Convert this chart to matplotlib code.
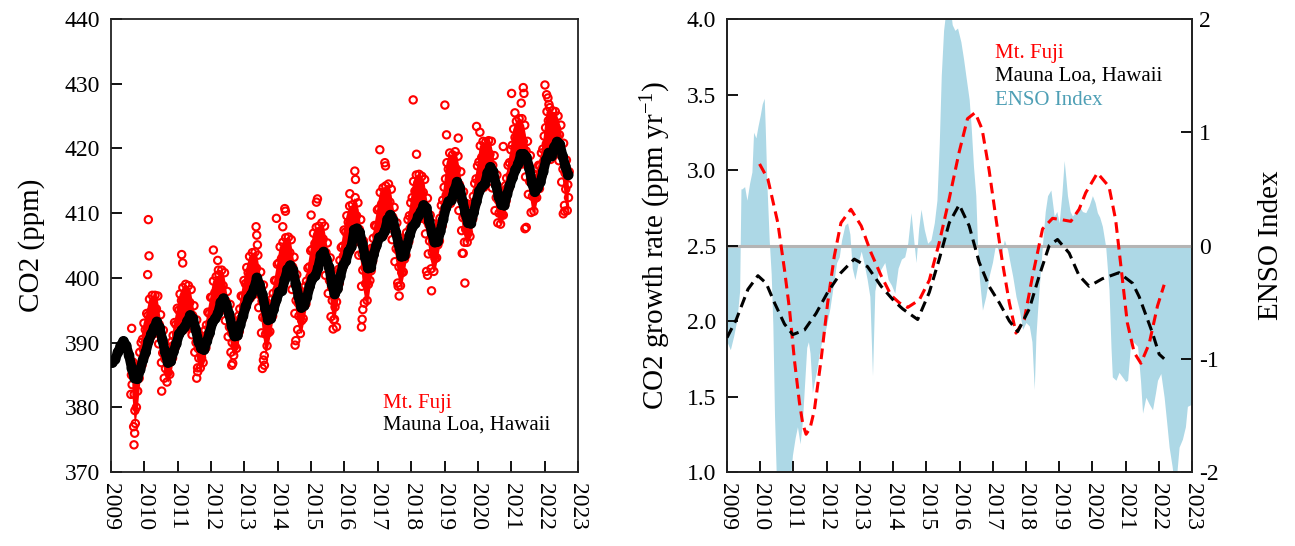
import numpy as np
import matplotlib.pyplot as plt

plt.rcParams.update({
    "font.family": "Liberation Serif",
    "mathtext.fontset": "custom",
    "mathtext.rm": "Liberation Serif",
    "mathtext.it": "Liberation Serif:italic",
    "axes.unicode_minus": False,
    "font.size": 17,
})

# Mauna Loa, monthly CO2 (ppm), Jan 2009 - Sep 2022
mlo_start = 2009
mlo_ppm = [
    386.9, 387.4, 388.5, 389.5, 390.2, 389.5, 388.0, 386.0, 384.5, 384.4, 385.8, 387.3,
    388.5, 390.2, 391.3, 392.3, 393.2, 392.3, 390.4, 388.5, 386.9, 387.1, 388.6, 389.8,
    391.3, 391.9, 392.4, 393.3, 394.2, 393.7, 392.0, 390.1, 389.1, 388.9, 390.2, 391.5,
    393.1, 393.7, 394.5, 396.2, 396.8, 395.9, 394.4, 392.5, 391.0, 391.1, 392.7, 394.1,
    395.6, 396.8, 397.4, 398.4, 400.0, 398.9, 397.4, 395.3, 393.5, 393.7, 395.1, 396.6,
    397.8, 398.0, 399.7, 401.3, 401.9, 401.2, 399.0, 397.1, 395.4, 395.7, 397.0, 398.7,
    399.9, 400.3, 401.5, 403.5, 404.0, 402.9, 401.6, 399.0, 397.5, 398.3, 400.2, 401.9,
    402.6, 404.1, 404.8, 407.4, 407.6, 407.0, 405.2, 403.1, 401.5, 401.6, 403.6, 405.0,
    406.2, 406.4, 407.2, 409.0, 409.7, 408.9, 407.0, 405.2, 403.3, 403.4, 405.0, 406.6,
    407.9, 408.4, 409.5, 410.2, 411.2, 410.8, 408.7, 406.9, 405.5, 405.6, 407.2, 409.0,
    410.8, 411.8, 412.0, 413.5, 414.8, 413.9, 411.8, 410.0, 408.5, 408.4, 410.1, 411.8,
    413.4, 414.1, 414.5, 416.2, 417.1, 416.4, 414.4, 412.5, 411.3, 411.2, 412.9, 414.3,
    415.5, 416.7, 417.6, 419.1, 419.1, 418.6, 416.9, 414.6, 413.3, 413.9, 414.8, 416.4,
    418.2, 419.3, 418.8, 420.2, 421.0, 420.6, 418.8, 417.2, 415.9,
]

# Mt. Fuji, four readings per month, Aug 2009 - Sep 2022
fuji_start = 2009 + 7 / 12
fuji_ppm = [
    # 2009
    [382.0, 383.5, 385.0, 387.0], [377.0, 379.5, 382.0, 384.5], [380.0, 382.5, 384.5, 386.5],
    [384.5, 386.5, 388.5, 390.0], [386.5, 389.0, 390.5, 393.0],
    # 2010
    [388.0, 390.0, 392.0, 394.5], [390.2, 392.2, 394.2, 396.7], [390.8, 392.8, 394.8, 397.3],
    [391.3, 393.3, 395.3, 397.3], [391.7, 393.2, 395.2, 397.2], [389.8, 391.3, 392.8, 394.3],
    [386.9, 388.4, 390.4, 391.9], [384.5, 386.0, 387.5, 389.5], [383.9, 385.4, 386.9, 388.4],
    [385.1, 387.1, 388.6, 390.1], [387.6, 389.6, 391.1, 393.1], [389.3, 391.3, 392.8, 395.3],
    # 2011
    [391.0, 393.0, 395.0, 397.5], [391.9, 394.0, 396.5, 398.5], [392.0, 394.0, 396.0, 399.0],
    [392.3, 394.3, 396.3, 398.8], [392.7, 394.2, 396.2, 398.2], [391.2, 392.7, 394.2, 395.7],
    [388.5, 390.0, 392.0, 393.5], [386.1, 387.6, 389.1, 391.1], [386.1, 387.6, 389.1, 390.6],
    [386.9, 388.9, 390.4, 391.9], [389.2, 391.2, 392.7, 394.7], [391.0, 393.0, 394.5, 397.0],
    # 2012
    [393.0, 395.0, 397.0, 399.5], [393.7, 395.7, 397.7, 400.2], [394.0, 396.0, 398.0, 400.5],
    [395.2, 397.2, 399.2, 401.2], [395.3, 396.8, 398.8, 400.8], [393.4, 394.9, 396.4, 397.9],
    [390.9, 392.4, 394.4, 395.9], [388.5, 390.0, 391.5, 393.5], [388.0, 389.5, 391.0, 392.5],
    [389.1, 391.1, 392.6, 394.1], [391.7, 393.7, 395.2, 397.2], [393.6, 395.6, 397.1, 399.6],
    # 2013
    [395.1, 397.1, 399.1, 401.6], [396.8, 398.8, 400.8, 403.3], [396.9, 398.9, 400.9, 403.9],
    [397.4, 399.4, 401.4, 404.0], [398.0, 399.5, 401.5, 403.5], [395.4, 397.4, 399.0, 400.9],
    [391.5, 393.9, 396.4, 398.9], [388.0, 391.3, 393.8, 396.3], [389.5, 391.5, 393.5, 395.0],
    [391.7, 393.7, 395.2, 396.7], [394.1, 396.1, 397.6, 399.6], [396.1, 398.1, 399.6, 402.1],
    # 2014
    [397.8, 399.8, 402.3, 404.8], [398.0, 400.5, 403.0, 405.5], [399.2, 401.7, 403.7, 406.2],
    [400.3, 402.3, 404.3, 406.3], [400.4, 401.9, 403.9, 405.9], [398.2, 400.2, 401.7, 403.2],
    [394.5, 396.5, 399.0, 400.5], [392.0, 394.1, 396.1, 398.1], [391.4, 393.4, 395.4, 396.9],
    [393.7, 395.7, 397.2, 398.7], [396.0, 398.0, 399.5, 401.5], [398.2, 400.2, 401.7, 404.2],
    # 2015
    [399.9, 401.9, 404.4, 406.9], [400.3, 402.8, 405.3, 407.8], [401.0, 403.5, 405.5, 408.0],
    [402.5, 404.5, 406.5, 408.5], [402.5, 404.0, 406.0, 408.0], [400.4, 402.4, 403.9, 405.4],
    [397.6, 399.6, 401.6, 403.1], [394.0, 396.5, 398.5, 400.5], [393.5, 395.5, 397.5, 399.0],
    [396.3, 398.3, 399.8, 401.3], [399.2, 401.2, 402.7, 404.7], [401.4, 403.4, 404.9, 407.4],
    # 2016
    [402.6, 404.6, 407.1, 409.6], [404.1, 406.1, 408.6, 411.1], [404.3, 406.8, 408.8, 411.3],
    [406.4, 408.4, 410.4, 412.4], [405.6, 407.6, 409.6, 411.6], [403.5, 405.5, 407.5, 409.0],
    [398.7, 401.2, 403.7, 405.7], [396.1, 399.1, 401.6, 403.6], [396.5, 399.0, 401.0, 402.5],
    [399.6, 401.1, 403.1, 404.6], [402.6, 404.6, 406.1, 408.1], [404.5, 406.5, 408.0, 410.5],
    # 2017
    [406.2, 408.2, 410.7, 413.2], [406.4, 408.9, 411.4, 413.9], [406.7, 409.2, 411.2, 414.2],
    [408.0, 410.0, 412.0, 414.5], [407.7, 409.7, 411.7, 413.7], [405.9, 407.9, 409.4, 410.9],
    [402.5, 404.5, 407.0, 408.5], [399.2, 401.7, 404.2, 406.2], [398.8, 400.8, 402.8, 404.3],
    [400.9, 402.9, 404.4, 405.9], [403.5, 405.5, 407.0, 409.0], [405.6, 407.6, 409.6, 411.6],
    # 2018
    [407.9, 409.9, 412.4, 414.9], [408.4, 410.9, 413.4, 415.9], [409.0, 411.5, 413.5, 416.0],
    [409.2, 411.2, 413.2, 415.7], [409.2, 411.2, 413.2, 415.2], [406.8, 408.8, 410.8, 412.3],
    [403.7, 405.7, 408.2, 409.7], [401.4, 403.9, 406.4, 408.4], [401.0, 403.0, 405.0, 406.5],
    [403.1, 405.1, 406.6, 408.1], [405.7, 407.7, 409.2, 411.2], [408.0, 410.0, 412.0, 414.0],
    # 2019
    [410.8, 412.8, 415.3, 417.8], [411.8, 414.3, 416.8, 419.3], [411.5, 414.0, 416.5, 419.0],
    [412.5, 414.5, 417.0, 419.5], [412.8, 414.8, 416.8, 418.8], [410.4, 412.4, 414.4, 416.4],
    [407.3, 409.3, 411.8, 413.3], [405.5, 407.5, 409.5, 411.5], [405.5, 407.0, 408.5, 410.0],
    [406.4, 408.4, 409.9, 411.4], [409.1, 411.1, 412.6, 414.6], [411.3, 413.3, 415.3, 417.3],
    # 2020
    [413.4, 415.4, 417.9, 420.4], [414.1, 416.1, 418.6, 421.1], [414.0, 416.5, 418.5, 421.0],
    [415.2, 417.2, 419.2, 421.2], [415.6, 417.1, 419.1, 421.1], [413.9, 415.9, 417.4, 418.9],
    [410.4, 412.4, 414.4, 415.9], [408.5, 410.0, 412.0, 413.5], [408.3, 409.8, 411.3, 412.8],
    [409.7, 411.2, 412.7, 414.2], [411.9, 413.9, 415.4, 417.4], [413.8, 415.8, 417.8, 419.8],
    # 2021
    [415.5, 418.0, 420.5, 423.0], [416.7, 419.2, 421.7, 424.2], [417.1, 419.6, 422.1, 424.6],
    [418.1, 420.1, 422.1, 424.6], [417.6, 419.1, 421.1, 423.6], [415.6, 417.6, 419.6, 421.1],
    [412.9, 414.9, 417.4, 418.9], [410.1, 412.6, 414.6, 416.1], [410.3, 412.3, 413.8, 415.3],
    [412.4, 414.4, 415.9, 417.4], [413.8, 415.8, 417.3, 419.3], [415.9, 417.9, 419.9, 421.9],
    # 2022
    [418.2, 420.7, 423.2, 425.7], [419.3, 421.8, 424.3, 426.3], [418.3, 420.8, 423.3, 425.8],
    [419.2, 421.2, 423.7, 425.7], [419.5, 421.0, 423.0, 425.0], [418.1, 420.1, 422.1, 423.6],
    [414.8, 416.8, 418.8, 420.8], [411.2, 413.7, 416.2, 418.2], [410.4, 412.4, 414.4, 416.4],
]

# Mt. Fuji, isolated high / low readings
fuji_out_year = [
    2009.62, 2009.69, 2009.71, 2009.73, 2010.10, 2010.12, 2010.14, 2010.52, 2011.12, 2011.15,
    2011.57, 2011.60, 2012.07, 2012.20, 2012.22, 2012.62, 2012.65, 2013.35, 2013.37, 2013.39,
    2013.54, 2013.57, 2013.60, 2013.96, 2014.15, 2014.21, 2014.23, 2014.52, 2014.54, 2015.00,
    2015.16, 2015.19, 2015.66, 2015.70, 2015.76, 2016.16, 2016.31, 2016.33, 2016.51, 2016.53,
    2016.55, 2017.06, 2017.21, 2017.23, 2017.61, 2017.64, 2018.06, 2018.16, 2018.46, 2018.49,
    2018.61, 2019.01, 2019.06, 2019.41, 2019.53, 2019.56, 2019.61, 2019.96, 2020.06, 2020.76,
    2021.01, 2021.11, 2021.30, 2021.36, 2021.38, 2021.41, 2021.45, 2022.01, 2022.06, 2022.10,
    2022.13, 2022.56, 2022.60,
]
fuji_out_ppm = [
    392.2, 374.2, 376.0, 377.5, 400.5, 409.0, 403.4, 382.5, 403.6, 402.3,
    384.5, 385.5, 404.3, 402.7, 401.2, 386.5, 386.8, 407.9, 406.6, 405.1,
    386.0, 387.3, 386.5, 409.2, 407.9, 410.7, 410.3, 389.6, 390.3, 409.7,
    411.7, 412.2, 392.1, 393.6, 392.4, 413.0, 416.5, 415.2, 392.4, 393.6,
    395.1, 419.8, 417.8, 417.3, 398.7, 397.2, 427.5, 419.1, 401.0, 400.4,
    398.0, 426.7, 422.1, 421.6, 403.8, 403.8, 399.2, 423.4, 422.5, 420.3,
    428.5, 425.5, 427.0, 429.4, 428.5, 407.6, 407.8, 429.8, 428.3, 427.8,
    426.8, 409.9, 410.3,
]

# CO2 growth rate (ppm/yr)
fuji_gr_year = [
    2009.98, 2010.23, 2010.53, 2010.73, 2010.88, 2011.03, 2011.18, 2011.28, 2011.38, 2011.50,
    2011.63, 2011.83, 2012.03, 2012.23, 2012.43, 2012.73, 2013.04, 2013.34, 2013.64, 2013.94,
    2014.19, 2014.44, 2014.79, 2015.09, 2015.39, 2015.69, 2015.99, 2016.24, 2016.47, 2016.68,
    2016.89, 2017.09, 2017.29, 2017.50, 2017.70, 2017.95, 2018.20, 2018.50, 2018.80, 2019.10,
    2019.35, 2019.60, 2019.80, 2020.15, 2020.50, 2020.70, 2020.86, 2021.05, 2021.26, 2021.46,
    2021.71, 2021.96, 2022.16,
]
fuji_gr = [
    3.04, 2.94, 2.65, 2.34, 2.08, 1.74, 1.46, 1.32, 1.25, 1.29,
    1.41, 1.74, 2.12, 2.43, 2.65, 2.74, 2.63, 2.45, 2.30, 2.17,
    2.12, 2.09, 2.14, 2.27, 2.52, 2.81, 3.12, 3.34, 3.38, 3.27,
    3.00, 2.69, 2.39, 2.12, 1.92, 2.01, 2.30, 2.61, 2.68, 2.67,
    2.66, 2.74, 2.85, 2.98, 2.89, 2.67, 2.36, 1.99, 1.79, 1.72,
    1.85, 2.10, 2.24,
]
mlo_gr_year = [
    2009.00, 2009.28, 2009.63, 2009.93, 2010.18, 2010.43, 2010.73, 2010.98, 2011.33, 2011.68,
    2012.03, 2012.43, 2012.83, 2013.23, 2013.64, 2014.04, 2014.29, 2014.74, 2015.09, 2015.39,
    2015.69, 2015.99, 2016.29, 2016.59, 2016.89, 2017.20, 2017.50, 2017.75, 2018.10, 2018.40,
    2018.70, 2018.95, 2019.30, 2019.60, 2019.90, 2020.30, 2020.80, 2021.21, 2021.41, 2021.81,
    2022.01, 2022.16,
]
mlo_gr = [
    1.89, 2.01, 2.21, 2.30, 2.25, 2.12, 1.98, 1.91, 1.94, 2.05,
    2.19, 2.32, 2.41, 2.36, 2.23, 2.13, 2.08, 2.01, 2.19, 2.41,
    2.65, 2.77, 2.63, 2.39, 2.23, 2.12, 2.00, 1.93, 2.08, 2.30,
    2.50, 2.54, 2.45, 2.30, 2.23, 2.28, 2.32, 2.25, 2.16, 1.92,
    1.78, 1.75,
]

# ENSO index
enso_year = [
    2009.00, 2009.10, 2009.20, 2009.30, 2009.38, 2009.42, 2009.45, 2009.53, 2009.60, 2009.68,
    2009.75, 2009.80, 2009.87, 2009.93, 2010.00, 2010.06, 2010.12, 2010.15, 2010.20, 2010.27,
    2010.33, 2010.38, 2010.43, 2010.50, 2010.60, 2010.70, 2010.80, 2010.90, 2010.97, 2011.05,
    2011.12, 2011.20, 2011.27, 2011.33, 2011.40, 2011.45, 2011.50, 2011.57, 2011.63, 2011.70,
    2011.78, 2011.85, 2011.92, 2012.00, 2012.10, 2012.20, 2012.30, 2012.38, 2012.45, 2012.55,
    2012.63, 2012.70, 2012.77, 2012.85, 2012.95, 2013.04, 2013.12, 2013.22, 2013.30, 2013.38,
    2013.45, 2013.55, 2013.65, 2013.75, 2013.85, 2013.95, 2014.05, 2014.15, 2014.25, 2014.35,
    2014.44, 2014.54, 2014.62, 2014.69, 2014.77, 2014.84, 2014.94, 2015.04, 2015.14, 2015.24,
    2015.32, 2015.39, 2015.45, 2015.52, 2015.60, 2015.70, 2015.78, 2015.86, 2015.94, 2016.04,
    2016.12, 2016.19, 2016.29, 2016.35, 2016.42, 2016.49, 2016.54, 2016.60, 2016.69, 2016.79,
    2016.89, 2016.99, 2017.09, 2017.17, 2017.24, 2017.35, 2017.45, 2017.52, 2017.60, 2017.70,
    2017.80, 2017.90, 2018.00, 2018.10, 2018.18, 2018.25, 2018.30, 2018.35, 2018.43, 2018.50,
    2018.58, 2018.65, 2018.75, 2018.85, 2018.93, 2019.00, 2019.08, 2019.15, 2019.20, 2019.25,
    2019.33, 2019.40, 2019.50, 2019.60, 2019.70, 2019.80, 2019.90, 2020.00, 2020.08, 2020.15,
    2020.22, 2020.30, 2020.40, 2020.50, 2020.56, 2020.60, 2020.71, 2020.80, 2020.90, 2021.00,
    2021.06, 2021.16, 2021.26, 2021.36, 2021.45, 2021.51, 2021.61, 2021.71, 2021.81, 2021.90,
    2021.96, 2022.06, 2022.16, 2022.25, 2022.31, 2022.40, 2022.46, 2022.53, 2022.61, 2022.71,
    2022.80, 2022.86, 2023.00,
]
enso = [
    -0.85, -0.92, -0.80, -0.65, -0.40, 0.50, 0.50, 0.52, 0.40, 0.55,
    0.65, 1.00, 0.95, 1.05, 1.15, 1.25, 1.30, 1.05, 0.55, 0.05,
    -0.25, -0.70, -1.50, -2.20, -2.40, -2.50, -2.30, -2.10, -1.85, -1.70,
    -1.60, -1.75, -1.55, -1.25, -0.90, -0.85, -0.95, -1.30, -1.20, -1.10,
    -0.95, -0.85, -0.80, -0.70, -0.55, -0.35, -0.15, -0.10, 0.05, 0.18,
    0.20, 0.10, -0.20, -0.30, -0.15, -0.05, -0.15, -0.30, -0.45, -1.15,
    -0.40, -0.25, -0.20, -0.15, -0.30, -0.35, -0.42, -0.20, -0.12, -0.10,
    0.02, 0.29, 0.05, -0.15, 0.15, 0.32, 0.14, 0.02, 0.05, 0.20,
    0.40, 0.90, 1.50, 1.90, 2.10, 2.15, 1.95, 1.90, 1.92, 1.80,
    1.65, 1.50, 1.29, 1.05, 0.70, 0.44, 0.02, -0.30, -0.57, -0.45,
    -0.27, -0.15, 0.02, -0.05, -0.10, 0.05, -0.04, -0.15, -0.27, -0.45,
    -0.57, -0.74, -0.68, -0.71, -0.85, -1.27, -0.80, -0.57, -0.25, 0.02,
    0.30, 0.44, 0.49, 0.26, 0.30, 0.20, 0.45, 0.75, 0.60, 0.44,
    0.30, 0.26, 0.30, 0.35, 0.30, 0.29, 0.35, 0.44, 0.38, 0.29,
    0.25, 0.17, -0.01, -0.39, -0.90, -1.16, -1.19, -1.12, -1.16, -1.20,
    -1.19, -0.83, -0.86, -0.89, -1.20, -1.48, -1.34, -1.40, -1.45, -1.30,
    -1.19, -1.13, -1.34, -1.60, -1.78, -1.95, -2.10, -2.05, -1.78, -1.71,
    -1.60, -1.42, -1.40,
]

years = list(range(2009, 2024))
enso_color = "#4e9fb5"

fig = plt.figure(figsize=(12.95, 5.46), dpi=100)
ax1 = fig.add_axes([0.0857, 0.1355, 0.3606, 0.8297])
ax2 = fig.add_axes([0.5614, 0.1355, 0.3591, 0.8297])

###
### Left: CO2 concentration
###
mlo_t = mlo_start + (np.arange(len(mlo_ppm)) + 0.5) / 12
fuji = np.array(fuji_ppm)
sub = np.array([0.15, 0.6, 0.35, 0.85])
fuji_t = fuji_start + (np.arange(len(fuji))[:, None] + sub[None, :]) / 12
fuji_mid_t = fuji_start + (np.arange(len(fuji)) + 0.5) / 12

# the daily Mt. Fuji points overlap into a solid red cloud
ax1.fill_between(fuji_mid_t, fuji.min(axis=1), fuji.max(axis=1), color="red", lw=0, zorder=1)
ax1.scatter(fuji_t.ravel(), fuji.ravel(), s=28, facecolors="none", edgecolors="red",
            linewidths=1.5, zorder=2)
ax1.scatter(fuji_out_year, fuji_out_ppm, s=28, facecolors="none", edgecolors="red",
            linewidths=1.5, zorder=2)
ax1.plot(mlo_t, mlo_ppm, color="k", lw=7, zorder=3, solid_capstyle="round")
ax1.scatter(mlo_t, mlo_ppm, s=36, facecolors="none", edgecolors="k", linewidths=1.6, zorder=4)

ax1.set_xlim(2009, 2023)
ax1.set_ylim(370, 440)
ax1.set_yticks(range(370, 441, 10))
ax1.set_xticks(years)
ax1.set_xticklabels([str(y) for y in years], rotation=-90)
ax1.set_ylabel("CO2 (ppm)", fontsize=21, labelpad=14)
ax1.tick_params(direction="in", length=8, width=1.3, pad=8)
ax1.text(0.582, 0.152, "Mt. Fuji", color="red", fontsize=15, transform=ax1.transAxes, va="center")
ax1.text(0.582, 0.104, "Mauna Loa, Hawaii", color="k", fontsize=15, transform=ax1.transAxes,
         va="center")

###
### Right: growth rate and ENSO
###
axr = ax2.twinx()
axr.fill_between(enso_year, enso, 0, color="#add8e6", lw=0)
axr.set_ylim(-2, 2)
axr.set_yticks([-2, -1, 0, 1, 2])
axr.set_ylabel("ENSO Index", fontsize=21, labelpad=28)
axr.tick_params(direction="in", length=8, width=1.3, pad=5)

ax2.set_zorder(axr.get_zorder() + 1)
ax2.patch.set_visible(False)
ax2.axhline(2.5, color="#b4b4b4", lw=2.2, zorder=1)
ax2.plot(fuji_gr_year, fuji_gr, color="red", lw=2.2, dashes=(3.5, 2), zorder=3)
ax2.plot(mlo_gr_year, mlo_gr, color="k", lw=2.2, dashes=(3.5, 2), zorder=4)

ax2.set_xlim(2009, 2023)
ax2.set_ylim(1, 4)
ax2.set_yticks(np.arange(1.0, 4.01, 0.5))
ax2.set_yticklabels([f"{v:.1f}" for v in np.arange(1.0, 4.01, 0.5)])
ax2.set_xticks(years)
ax2.set_xticklabels([str(y) for y in years], rotation=-90)
ax2.set_ylabel(r"CO2 growth rate (ppm yr$^{-1}$)", fontsize=21, labelpad=10)
ax2.tick_params(direction="in", length=8, width=1.3, pad=8)
ax2.text(0.576, 0.924, "Mt. Fuji", color="red", fontsize=15, transform=ax2.transAxes, va="center")
ax2.text(0.576, 0.873, "Mauna Loa, Hawaii", color="k", fontsize=15, transform=ax2.transAxes,
         va="center")
ax2.text(0.576, 0.821, "ENSO Index", color=enso_color, fontsize=15, transform=ax2.transAxes,
         va="center")

for ax in (ax1, ax2, axr):
    for sp in ax.spines.values():
        sp.set_linewidth(1.3)
        sp.set_color("#222222")

fig.savefig("out.png", dpi=100)
